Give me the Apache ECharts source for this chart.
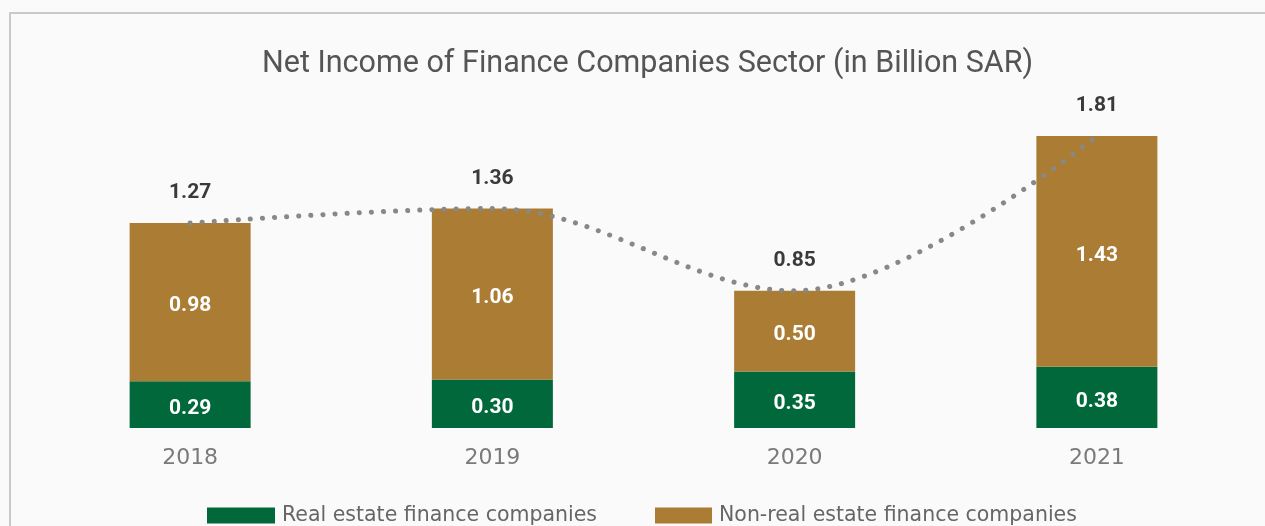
<!DOCTYPE html>
<html>
<head>
<meta charset="utf-8">
<script src="https://cdn.jsdelivr.net/npm/echarts@6/dist/echarts.min.js"></script>
<style>
  html, body { margin: 0; padding: 0; background: #fafafa; overflow: hidden; }
  #main { width: 1265px; height: 526px; }
  .frame {
    position: absolute; left: 9px; top: 12px; width: 1300px; height: 600px;
    border: 2px solid #c9c9c9; pointer-events: none;
  }
</style>
</head>
<body>
<div id="main"></div>
<div class="frame"></div>
<script>
// data
const years = ["2018", "2019", "2020", "2021"];
const realEstate = [0.29, 0.30, 0.35, 0.38];
const nonRealEstate = [0.98, 1.06, 0.50, 1.43];
const totals = [1.27, 1.36, 0.85, 1.81];

const chart = echarts.init(document.getElementById("main"));

const barLabel = {
  show: true,
  position: "inside",
  offset: [0, 4],
  color: "#fff",
  fontWeight: "bold",
  fontSize: 21,
  fontFamily: "Roboto",
  formatter: p => p.value.toFixed(2)
};

chart.setOption({
  backgroundColor: "#fafafa",
  animation: false,
  title: {
    text: "Net Income of Finance Companies Sector (in Billion SAR)",
    left: 257,
    top: 44,
    textStyle: { color: "#555", fontSize: 30.5, fontWeight: "normal", fontFamily: "Roboto" }
  },
  grid: { left: 39, right: 17, top: 73, bottom: 98, containLabel: false },
  legend: [
    {
      data: ["Real estate finance companies"],
      left: 202, top: 500,
      itemWidth: 68, itemHeight: 16,
      icon: "rect",
      textStyle: { color: "#666", fontSize: 20.5, fontFamily: "DejaVu Sans", padding: [0, 0, 0, 2] }
    },
    {
      data: ["Non-real estate finance companies"],
      left: 650, top: 500,
      itemWidth: 57, itemHeight: 16,
      icon: "rect",
      textStyle: { color: "#666", fontSize: 20.5, fontFamily: "DejaVu Sans", padding: [0, 0, 0, 2] }
    }
  ],
  xAxis: {
    type: "category",
    data: years,
    axisLine: { show: false },
    axisTick: { show: false },
    axisLabel: { color: "#7a7a7a", fontSize: 22, margin: 19, fontFamily: "DejaVu Sans" }
  },
  yAxis: {
    type: "value",
    min: 0,
    max: 2.2,
    show: false,
    splitLine: { show: false }
  },
  series: [
    {
      name: "Real estate finance companies",
      type: "bar",
      stack: "total",
      barWidth: 121,
      data: realEstate,
      itemStyle: { color: "#00683a" },
      label: barLabel
    },
    {
      name: "Non-real estate finance companies",
      type: "bar",
      stack: "total",
      barWidth: 121,
      data: nonRealEstate,
      itemStyle: { color: "#aa7c34" },
      label: barLabel
    },
    {
      name: "Total",
      type: "line",
      data: totals,
      smooth: 0.35,
      symbol: "circle",
      symbolSize: 1,
      showSymbol: true,
      itemStyle: { color: "rgba(0,0,0,0)" },
      lineStyle: { color: "#888", width: 5, type: [0.1, 12], cap: "round" },
      label: {
        show: true,
        position: "top",
        distance: 19,
        color: "#3a3a3a",
        fontWeight: "bold",
        fontSize: 21,
        fontFamily: "Roboto",
        formatter: p => p.value.toFixed(2)
      },
      z: 5
    }
  ]
});

window.onresize = function () {
  chart.resize();
};
</script>
</body>
</html>
